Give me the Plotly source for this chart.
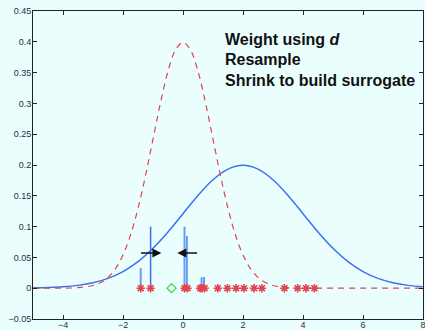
import plotly.graph_objects as go

# Prior curve (red dashed)
prior_x = [-5, -4.5, -4, -3.5, -3, -2.75, -2.5, -2.25, -2, -1.75, -1.5, -1.25, -1, -0.75, -0.5, -0.25, 0,
           0.25, 0.5, 0.75, 1, 1.25, 1.5, 1.75, 2, 2.25, 2.5, 2.75, 3, 3.5, 4, 4.5, 5, 6, 7, 8]
prior_y = [0, 0, 0.0001, 0.0009, 0.0044, 0.0091, 0.0175, 0.0317, 0.054, 0.0863, 0.1295, 0.1826, 0.242, 0.3011,
           0.3521, 0.3867, 0.399, 0.3867, 0.3521, 0.3011, 0.242, 0.1826, 0.1295, 0.0863, 0.054, 0.0317, 0.0175,
           0.0091, 0.0044, 0.0009, 0.0001, 0, 0, 0, 0, 0]

# Posterior / surrogate curve (blue solid)
post_x = [-5, -4.5, -4, -3.5, -3, -2.5, -2, -1.5, -1, -0.5, 0, 0.5, 1, 1.5, 2, 2.5, 3, 3.5, 4, 4.5, 5,
          5.5, 6, 6.5, 7, 7.5, 8]
post_y = [0.0004, 0.001, 0.0022, 0.0046, 0.0088, 0.0159, 0.027, 0.0431, 0.0648, 0.0913, 0.121, 0.1506,
          0.176, 0.1933, 0.1995, 0.1933, 0.176, 0.1506, 0.121, 0.0913, 0.0648, 0.0431, 0.027, 0.0159,
          0.0088, 0.0046, 0.0022]

# Samples (red stars on the axis)
sample_x = [-1.41, -1.08, 0.05, 0.15, 0.57, 0.63, 0.72, 1.16, 1.48, 1.77, 2.03, 2.37, 2.63, 3.38, 3.82, 4.1, 4.38]

# Observation (green diamond)
obs_x = [-0.38]

# Weights (blue stems)
stem_x = [-1.41, 0.05, 0.13, 0.62, 0.7]
stem_h = [0.033, 0.1, 0.085, 0.018, 0.018]
thin_stem_x = [-1.08]
thin_stem_h = [0.1]

# Arrows (shrink): tail x, head x, y
arrow_tail = [-1.45, 0.52]
arrow_head = [-0.72, -0.19]
arrow_y = [0.057, 0.057]

labels = ["<b>Weight using <i>d</i></b>", "<b>Resample</b>", "<b>Shrink to build surrogate</b>"]

RED = "#E2434E"
BLUE = "#3D6FF3"
LBLUE = "#6A9CF5"

W, H = 425, 330
L, R, T, B = 33, 2, 11, 11
pw, ph = W - L - R, H - T - B

fig = go.Figure()

fig.add_trace(go.Scatter(x=post_x, y=post_y, mode="lines", line=dict(color=BLUE, width=1.5, shape="spline"),
                         hoverinfo="skip"))
fig.add_trace(go.Scatter(x=prior_x, y=prior_y, mode="lines",
                         line=dict(color=RED, width=1.2, dash="6px,5px", shape="spline"), hoverinfo="skip"))

# stems
sx, sy = [], []
for x, h in zip(stem_x, stem_h):
    sx += [x, x, None]
    sy += [0, h, None]
fig.add_trace(go.Scatter(x=sx, y=sy, mode="lines", line=dict(color=LBLUE, width=2), hoverinfo="skip"))
tx, ty = [], []
for x, h in zip(thin_stem_x, thin_stem_h):
    tx += [x, x, None]
    ty += [0, h, None]
fig.add_trace(go.Scatter(x=tx, y=ty, mode="lines", line=dict(color=BLUE, width=1.5), hoverinfo="skip"))

fig.add_trace(go.Scatter(x=sample_x, y=[0] * len(sample_x), mode="markers",
                         marker=dict(symbol="asterisk-open", size=7, color=RED, line=dict(color=RED, width=1.6)),
                         hoverinfo="skip"))
fig.add_trace(go.Scatter(x=obs_x, y=[0] * len(obs_x), mode="markers",
                         marker=dict(symbol="diamond-open", size=7, color="#3CD03C",
                                     line=dict(color="#3CD03C", width=1.2)),
                         hoverinfo="skip"))

for t, h, y in zip(arrow_tail, arrow_head, arrow_y):
    fig.add_annotation(x=h, y=y, ax=t, ay=y, xref="x", yref="y", axref="x", ayref="y",
                       text="", showarrow=True, arrowhead=2, arrowsize=1.2, arrowwidth=1.5,
                       arrowcolor="#111111", standoff=0, startstandoff=0)

for i, s in enumerate(labels):
    fig.add_annotation(x=(223 - L) / pw, y=1 - (40 + 20 * i - T) / ph, xref="paper", yref="paper",
                       text=s, showarrow=False, xanchor="left", yanchor="middle",
                       font=dict(family="Liberation Sans, Arial, sans-serif", size=16, color="#111111"))

axis_common = dict(showgrid=False, zeroline=False, showline=True, linecolor="#222222", linewidth=1,
                   mirror="ticks", ticks="inside", ticklen=4, tickcolor="#222222", automargin=False,
                   ticklabeloverflow="allow",
                   tickfont=dict(family="Liberation Sans, Arial, sans-serif", size=9, color="#2a2f3a"))

fig.update_layout(
    width=W, height=H,
    margin=dict(l=L, r=R, t=T, b=B),
    paper_bgcolor="#EBFEFE", plot_bgcolor="#EBFEFE",
    showlegend=False,
    xaxis=dict(range=[-5, 8], tickvals=[-4, -2, 0, 2, 4, 6, 8], ticklabelstandoff=-3, **axis_common),
    yaxis=dict(range=[-0.05, 0.45], dtick=0.05, tick0=0, ticklabelstandoff=-1, **axis_common),
)

fig.write_html("out.html", config={"displayModeBar": False},
               post_script="document.body.style.margin='0';document.body.style.overflow='hidden';")
